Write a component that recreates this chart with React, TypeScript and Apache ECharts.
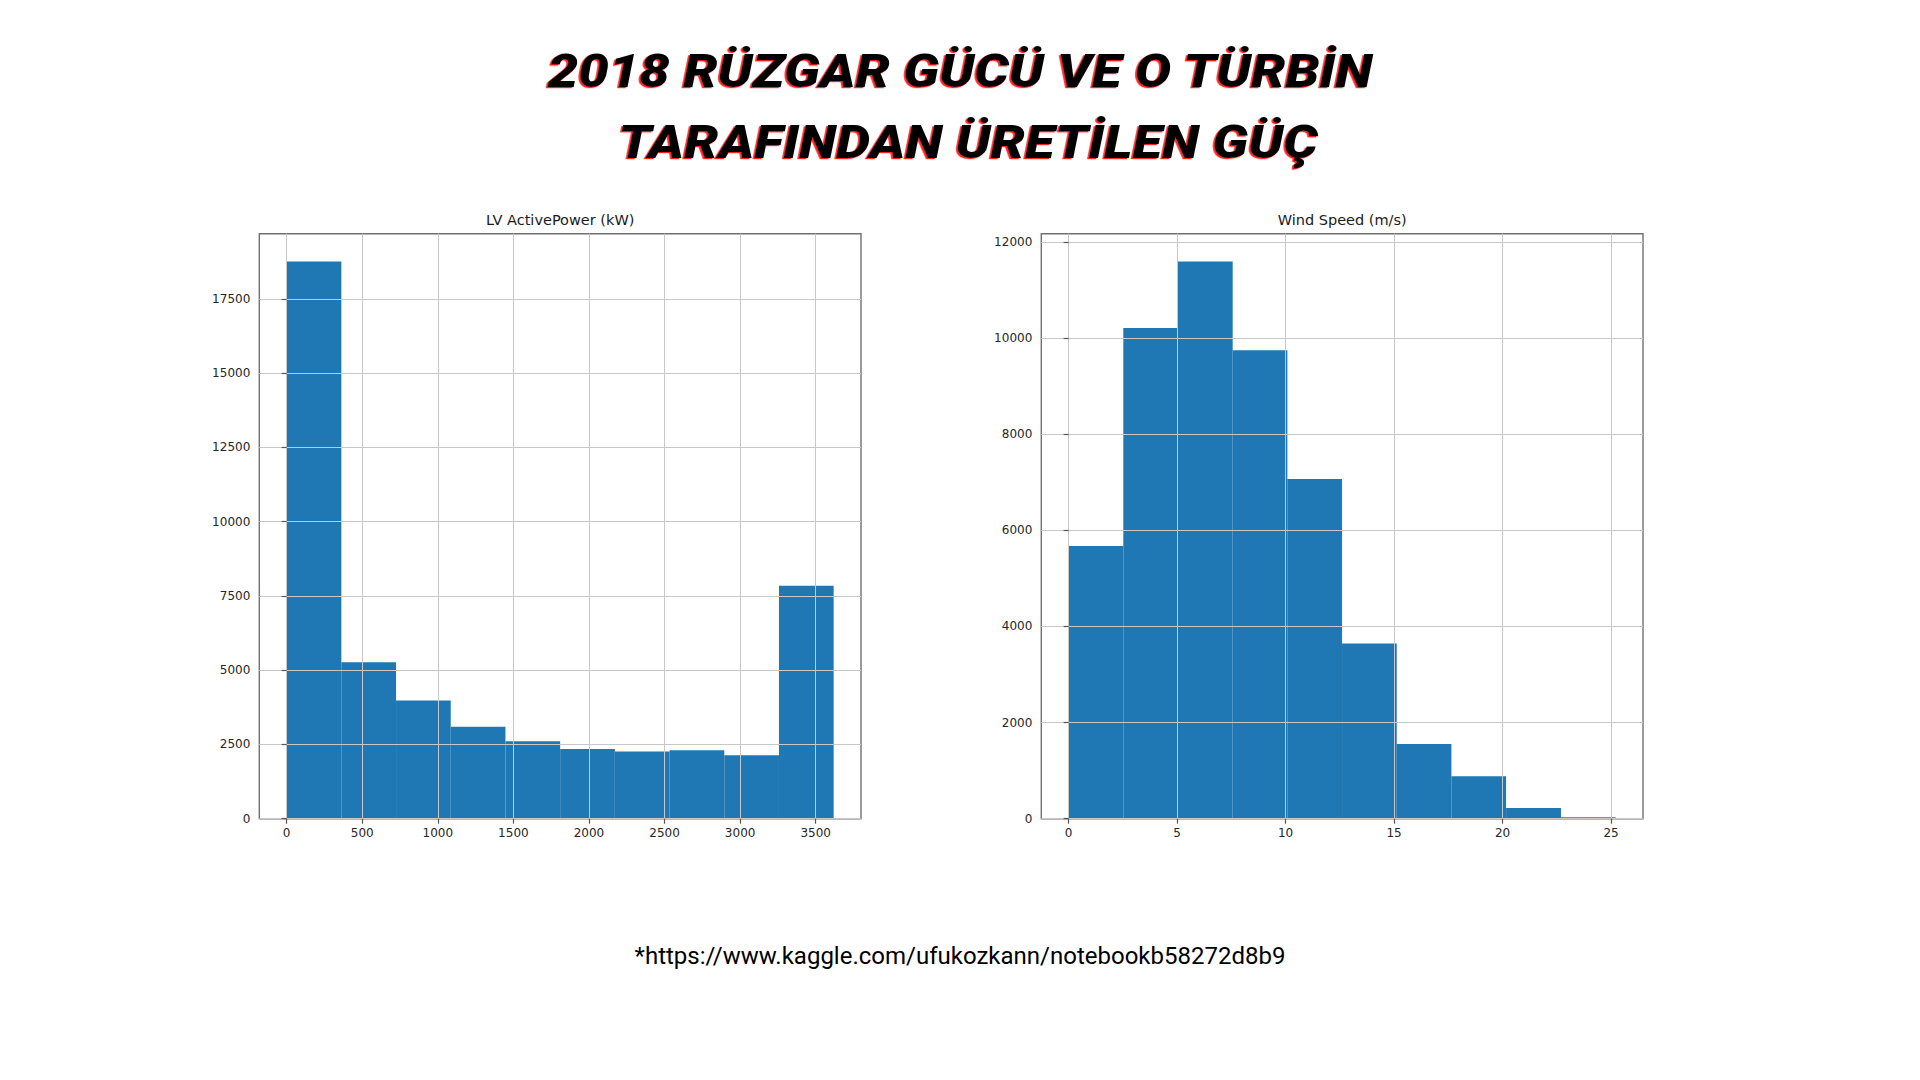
import React, { useEffect, useRef } from "react";
import * as echarts from "echarts";

// ---------- text ----------
const TITLE_LINES = ["2018 RÜZGAR GÜCÜ VE O TÜRBİN", "TARAFINDAN ÜRETİLEN GÜÇ"];
const SOURCE_TEXT = "*https://www.kaggle.com/ufukozkann/notebookb58272d8b9";

// ---------- LV ActivePower histogram ----------
const powerTitle = "LV ActivePower (kW)";
const powerEdges = [0, 361.9, 723.7, 1085.6, 1447.5, 1809.4, 2171.2, 2533.1, 2895.0, 3256.9, 3618.7];
const powerCounts = [18760, 5265, 3980, 3100, 2605, 2350, 2265, 2305, 2140, 7845];
const powerXTicks = [0, 500, 1000, 1500, 2000, 2500, 3000, 3500];
const powerYTicks = [0, 2500, 5000, 7500, 10000, 12500, 15000, 17500];
const powerXRange = [-180.9, 3799.6];
const powerYRange = [0, 19698];

// ---------- Wind Speed histogram ----------
const windTitle = "Wind Speed (m/s)";
const windEdges = [0, 2.52, 5.04, 7.56, 10.08, 12.6, 15.12, 17.64, 20.16, 22.69, 25.21];
const windCounts = [5670, 10205, 11590, 9745, 7065, 3645, 1555, 885, 220, 28];
const windXTicks = [0, 5, 10, 15, 20, 25];
const windYTicks = [0, 2000, 4000, 6000, 8000, 10000, 12000];
const windXRange = [-1.26, 26.47];
const windYRange = [0, 12168];

const BAR_COLOR = "#1f77b4";
const GRID_COLOR = "#c8c8c8";
const FRAME_COLOR = "#707070";
const TICK_TEXT = "#262626";

const histData = (edges: number[], counts: number[]) =>
  counts.map((c, i) => [edges[i], edges[i + 1], c]);

const renderHistBar = (_params: any, api: any) => {
  const tl = api.coord([api.value(0), api.value(2)]);
  const br = api.coord([api.value(1), 0]);
  return {
    type: "rect",
    shape: { x: tl[0], y: tl[1], width: br[0] - tl[0], height: br[1] - tl[1] },
    style: { fill: BAR_COLOR },
  };
};

const plainNumber = (v: number) => String(v);

const makeAxis = (gridIndex: number, range: number[], ticks: number[], margin: number) => ({
  type: "value",
  gridIndex,
  min: range[0],
  max: range[1],
  z: 3,
  axisLine: { show: false },
  axisTick: {
    show: true,
    length: 5,
    customValues: ticks,
    lineStyle: { color: "#555", width: 1.2 },
  },
  axisLabel: {
    customValues: ticks,
    formatter: plainNumber,
    color: TICK_TEXT,
    fontFamily: "DejaVu Sans",
    fontSize: 12,
    margin,
  },
  splitLine: { show: true, lineStyle: { color: GRID_COLOR, width: 1 } },
});

export default function App() {
  const ref = useRef<HTMLDivElement>(null);

  useEffect(() => {
    if (!ref.current) return;
    const chart = echarts.init(ref.current, undefined, { renderer: "svg" });

    const titleY = [71, 141.5];
    const titleX = [960, 968];
    const graphics: any[] = [];
    TITLE_LINES.forEach((line, i) => {
      graphics.push({
        type: "text",
        x: titleX[i],
        y: titleY[i],
        scaleX: 1.18,
        z: 10,
        style: {
          text: line,
          fill: "#000000",
          fontFamily: "Roboto",
          fontWeight: 900,
          fontStyle: "italic",
          fontSize: 46,
          align: "center",
          verticalAlign: "middle",
          textShadowColor: "#ff2020",
          textShadowOffsetX: -1.8,
          textShadowOffsetY: 1.2,
          textShadowBlur: 0.4,
        },
      });
    });
    graphics.push({
      type: "text",
      x: 560.2,
      y: 220,
      style: {
        text: powerTitle,
        fill: "#1a1a1a",
        fontFamily: "DejaVu Sans",
        fontSize: 14.5,
        align: "center",
        verticalAlign: "middle",
      },
    });
    graphics.push({
      type: "text",
      x: 1342.2,
      y: 220,
      style: {
        text: windTitle,
        fill: "#1a1a1a",
        fontFamily: "DejaVu Sans",
        fontSize: 14.5,
        align: "center",
        verticalAlign: "middle",
      },
    });
    graphics.push({
      type: "text",
      x: 960,
      y: 956,
      style: {
        text: SOURCE_TEXT,
        fill: "#000000",
        fontFamily: "Roboto",
        fontSize: 24,
        align: "center",
        verticalAlign: "middle",
      },
    });

    chart.setOption({
      animation: false,
      backgroundColor: "#ffffff",
      grid: [
        {
          left: 259.3,
          top: 233.7,
          width: 601.7,
          height: 585,
          show: true,
          borderColor: FRAME_COLOR,
          borderWidth: 1.4,
          backgroundColor: "transparent",
        },
        {
          left: 1041.3,
          top: 233.7,
          width: 601.7,
          height: 585,
          show: true,
          borderColor: FRAME_COLOR,
          borderWidth: 1.4,
          backgroundColor: "transparent",
        },
      ],
      xAxis: [
        makeAxis(0, powerXRange, powerXTicks, 8),
        makeAxis(1, windXRange, windXTicks, 8),
      ],
      yAxis: [
        makeAxis(0, powerYRange, powerYTicks, 9),
        makeAxis(1, windYRange, windYTicks, 9),
      ],
      series: [
        {
          type: "custom",
          xAxisIndex: 0,
          yAxisIndex: 0,
          data: histData(powerEdges, powerCounts),
          encode: { x: [0, 1], y: 2 },
          renderItem: renderHistBar,
          z: 2,
        },
        {
          type: "custom",
          xAxisIndex: 1,
          yAxisIndex: 1,
          data: histData(windEdges, windCounts),
          encode: { x: [0, 1], y: 2 },
          renderItem: renderHistBar,
          z: 2,
        },
      ],
      graphic: graphics,
    });

    return () => chart.dispose();
  }, []);

  return (
    <div
      ref={ref}
      style={{ position: "absolute", left: 0, top: 0, width: 1920, height: 1080, background: "#fff" }}
    />
  );
}
